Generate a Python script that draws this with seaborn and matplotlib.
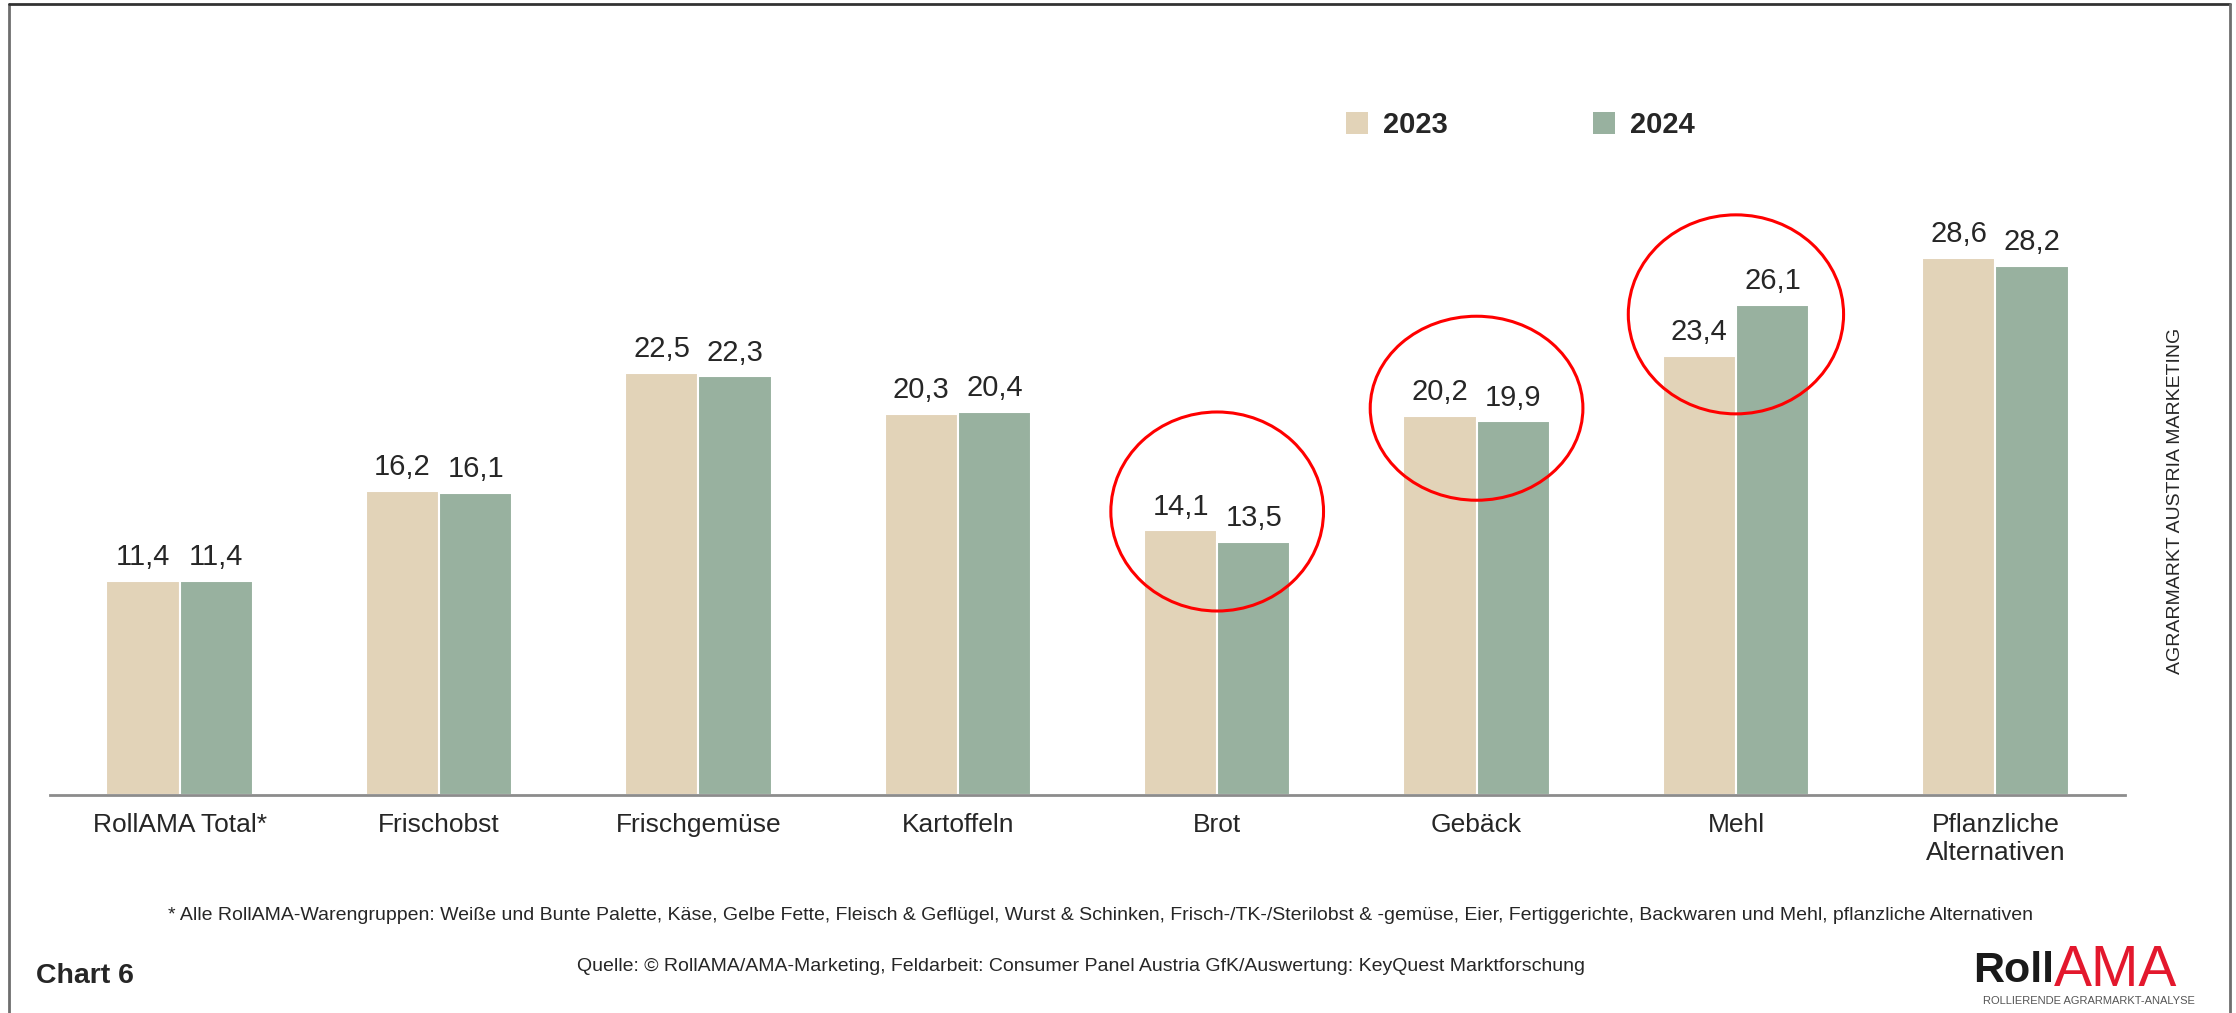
import numpy as np
import pandas as pd
import seaborn as sns
import matplotlib
matplotlib.use("Agg")
import matplotlib.pyplot as plt
from matplotlib.patches import Ellipse, Patch
from matplotlib.lines import Line2D

# data
categories = ["RollAMA Total*", "Frischobst", "Frischgemüse", "Kartoffeln",
              "Brot", "Gebäck", "Mehl", "Pflanzliche\nAlternativen"]
years = ["2023", "2024"]
vals_2023 = [11.4, 16.2, 22.5, 20.3, 14.1, 20.2, 23.4, 28.6]
vals_2024 = [11.4, 16.1, 22.3, 20.4, 13.5, 19.9, 26.1, 28.2]

# red circles drawn around these groups (centre value, width, height in data units)
circled = ["Brot", "Gebäck", "Mehl"]
circle_y = [15.1, 20.6, 25.6]
circle_w = [0.82, 0.82, 0.83]
circle_h = [10.6, 9.8, 10.6]

footnote = ("* Alle RollAMA-Warengruppen: Weiße und Bunte Palette, Käse, Gelbe Fette, "
            "Fleisch & Geflügel, Wurst & Schinken, Frisch-/TK-/Sterilobst & -gemüse, Eier, "
            "Fertiggerichte, Backwaren und Mehl, pflanzliche Alternativen")
source = ("Quelle: © RollAMA/AMA-Marketing, Feldarbeit: Consumer Panel Austria GfK/"
          "Auswertung: KeyQuest Marktforschung")

colors = {"2023": "#E2D3B8", "2024": "#98B19F"}

df = pd.DataFrame({
    "Kategorie": categories * 2,
    "Jahr": ["2023"] * len(categories) + ["2024"] * len(categories),
    "Wert": vals_2023 + vals_2024,
})

sns.set_style("white")
plt.rcParams["font.family"] = ["Liberation Sans", "DejaVu Sans"]

fig = plt.figure(figsize=(22.36, 10.13), dpi=100)
ax = fig.add_axes([50 / 2236, 1 - 795 / 1013, 2075 / 2236, 751 / 1013])

sns.barplot(data=df, x="Kategorie", y="Wert", hue="Jahr", order=categories,
            hue_order=years, palette=colors, width=0.565, edgecolor="white",
            linewidth=1.5, saturation=1, legend=False, ax=ax)

for cont, yr in zip(ax.containers, years):
    labs = [f"{v:.1f}".replace(".", ",") for v in df[df["Jahr"] == yr]["Wert"]]
    ax.bar_label(cont, labels=labs, padding=7, fontsize=21)

# circles
for c, cy, w, h in zip(circled, circle_y, circle_w, circle_h):
    ax.add_patch(Ellipse((categories.index(c), cy), w, h, fill=False,
                         edgecolor="#FF0000", linewidth=2.2, zorder=5))

ax.set_xlim(-0.5, len(categories) - 0.5)
ax.set_ylim(0, 40)
ax.set_xlabel("")
ax.set_ylabel("")
ax.set_yticks([])
for s in ["top", "left", "right"]:
    ax.spines[s].set_visible(False)
ax.spines["bottom"].set_color("#8C8C8C")
ax.spines["bottom"].set_linewidth(2)
ax.set_xticks(np.arange(-0.5, len(categories)), minor=True)
ax.tick_params(axis="x", which="minor", length=14, width=2, color="#8C8C8C", direction="out")
ax.tick_params(axis="x", which="major", length=0, pad=13, labelsize=19)

# legend
handles = [Patch(facecolor=colors[y], edgecolor="none", label=y) for y in years]
leg = fig.legend(handles=handles, loc="center left", ncol=2,
                 bbox_to_anchor=(1320 / 2236, 1 - 125 / 1013), frameon=False,
                 handlelength=0.75, handleheight=0.75, handletextpad=0.5,
                 columnspacing=5.0, prop={"size": 21, "weight": "bold"})

# text around the chart
fig.text(1101 / 2236, 1 - 915 / 1013, footnote, ha="center", va="center", fontsize=14)
fig.text(1081 / 2236, 1 - 966 / 1013, source, ha="center", va="center", fontsize=14)
fig.text(36 / 2236, 1 - 976 / 1013, "Chart 6", ha="left", va="center",
         fontsize=20.5, fontweight="bold")
fig.text(2175 / 2236, 1 - 501 / 1013, "AGRARMARKT AUSTRIA MARKETING", rotation=90,
         ha="center", va="center", fontsize=14)

# logo
fig.text(2054 / 2236, 1 - 971 / 1013, "Roll", ha="right", va="center",
         fontsize=31, fontweight="bold", color="#1A1A1A")
fig.text(2054 / 2236, 1 - 971 / 1013, "AMA", ha="left", va="center",
         fontsize=41, color="#E3182D")
fig.text(2089 / 2236, 1 - 1001 / 1013, "ROLLIERENDE AGRARMARKT-ANALYSE", ha="center",
         va="center", fontsize=8, color="#555555")

# frame around the slide
fig.add_artist(Line2D([9 / 2236, 9 / 2236], [0, 1 - 4 / 1013], color="#6E6E6E", lw=2))
fig.add_artist(Line2D([9 / 2236, 2230 / 2236], [1 - 4 / 1013, 1 - 4 / 1013], color="#333333", lw=2))
fig.add_artist(Line2D([2230 / 2236, 2230 / 2236], [0, 1 - 4 / 1013], color="#6E6E6E", lw=2))

fig.savefig("out.png", dpi=100)
